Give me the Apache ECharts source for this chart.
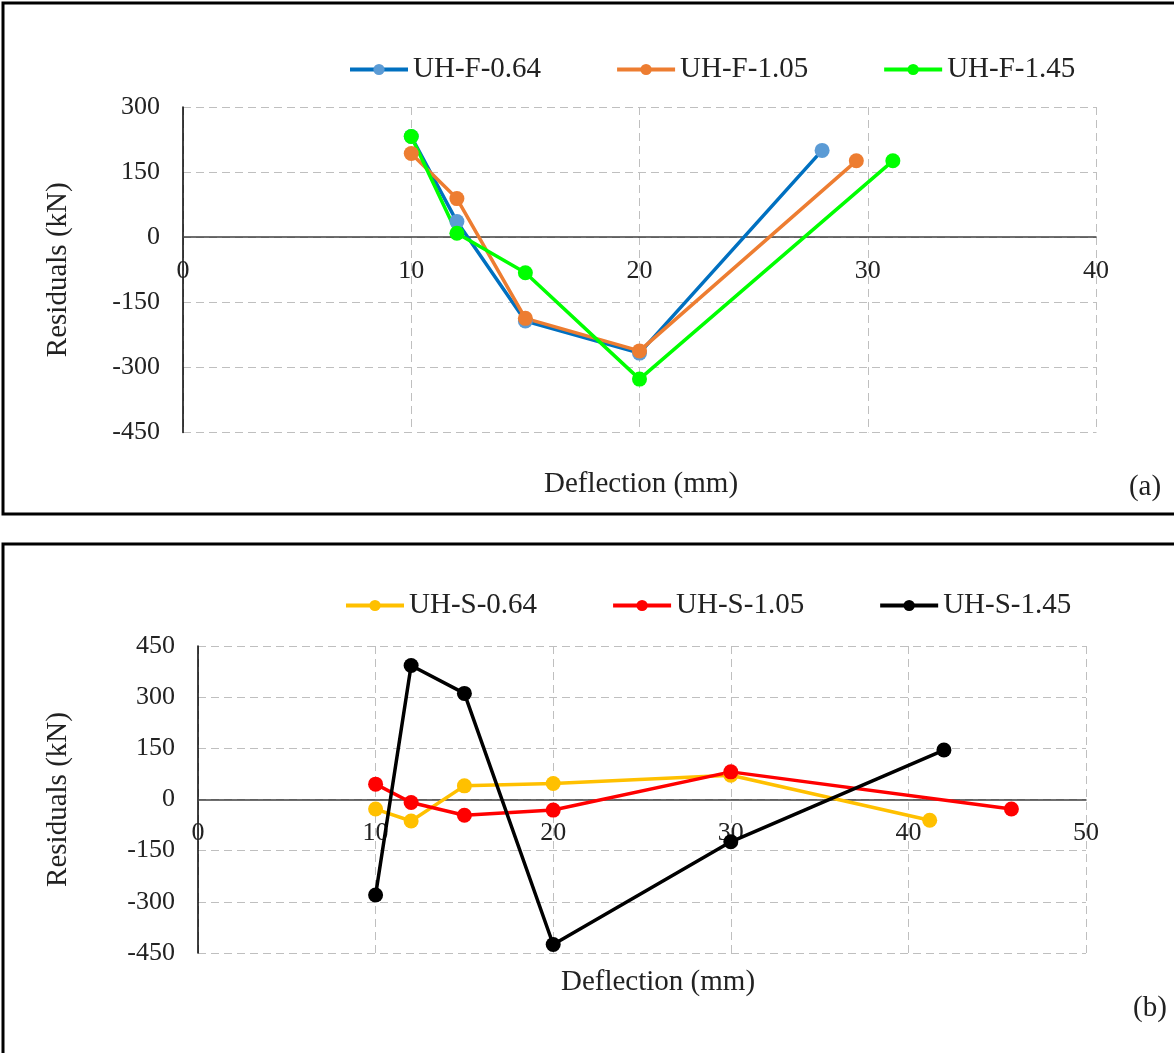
<!DOCTYPE html>
<html>
<head>
<meta charset="utf-8">
<script src="https://cdn.jsdelivr.net/npm/echarts@6/dist/echarts.min.js"></script>
<style>
html,body{margin:0;padding:0;background:#fff;}
#chart{width:1174px;height:1053px;}
</style>
</head>
<body>
<div id="chart"></div>
<script>
// ---- data (deflection mm, residual kN) ----
const namesTop = ['UH-F-0.64', 'UH-F-1.05', 'UH-F-1.45'];
const namesBottom = ['UH-S-0.64', 'UH-S-1.05', 'UH-S-1.45'];
const UH_F_064 = [[10, 232], [12, 36], [15, -193], [20, -267], [28, 200]];
const UH_F_105 = [[10, 193], [12, 89], [15, -187], [20, -262], [29.5, 176]];
const UH_F_145 = [[10, 232], [12, 9], [15, -82], [20, -327], [31.1, 176]];
const UH_S_064 = [[10, -28], [12, -63], [15, 40], [20, 47], [30, 71], [41.2, -61]];
const UH_S_105 = [[10, 45], [12, -9], [15, -46], [20, -31], [30, 81], [45.8, -28]];
const UH_S_145 = [[10, -280], [12, 393], [15, 311], [20, -425], [30, -124], [42, 145]];
const xTitle = 'Deflection (mm)';
const yTitle = 'Residuals (kN)';

const FONT = "'Liberation Serif', 'Times New Roman', serif";
const chart = echarts.init(document.getElementById('chart'), null, {renderer: 'canvas'});

// x axis drawn at residual = 0 (offset upward from the grid bottom)
function xAx(grid, max, offset) {
  return {
    type: 'value', gridIndex: grid, min: 0, max: max, interval: 10,
    offset: offset,
    axisLine: {onZero: false, lineStyle: {color: '#404040', width: 1.5}},
    axisTick: {show: false},
    axisLabel: {fontFamily: FONT, fontSize: 26, color: '#222', margin: 21},
    splitLine: {show: true, lineStyle: {color: '#BFBFBF', width: 1, type: [8, 5]}}
  };
}
function yAx(grid, min, max, gap) {
  return {
    type: 'value', gridIndex: grid, min: min, max: max, interval: 150,
    name: yTitle, nameLocation: 'middle', nameRotate: 90, nameGap: gap,
    nameTextStyle: {fontFamily: FONT, fontSize: 29, color: '#222'},
    axisLine: {show: true, onZero: false, lineStyle: {color: '#000', width: 1.5}},
    axisTick: {show: false},
    axisLabel: {fontFamily: FONT, fontSize: 26, color: '#222', margin: 23, padding: [4, 0, 0, 0]},
    splitLine: {show: true, lineStyle: {color: '#BFBFBF', width: 1, type: [8, 5]}}
  };
}
function ser(name, data, grid, lineColor, markColor) {
  return {
    name: name, type: 'line', xAxisIndex: grid, yAxisIndex: grid, data: data,
    symbol: 'circle', symbolSize: 15,
    lineStyle: {color: lineColor, width: 3.5},
    itemStyle: {color: markColor},
    animation: false
  };
}
const legendBase = {
  itemWidth: 58, itemHeight: 14, itemGap: 74, padding: 0,
  lineStyle: {width: 4},
  textStyle: {fontFamily: FONT, fontSize: 29, color: '#222'}
};

chart.setOption({
  animation: false,
  textStyle: {fontFamily: FONT},
  grid: [
    {left: 183, top: 107, width: 913, height: 325.5},
    {left: 198, top: 646, width: 888, height: 307}
  ],
  xAxis: [xAx(0, 40, -195.3), xAx(1, 50, -153.5)],
  yAxis: [yAx(0, -450, 300, 110), yAx(1, -450, 450, 125)],
  legend: [
    Object.assign({}, legendBase, {data: namesTop, left: 348, top: 55}),
    Object.assign({}, legendBase, {data: namesBottom, left: 344, top: 591})
  ],
  series: [
    ser(namesTop[0], UH_F_064, 0, '#0070C0', '#5B9BD5'),
    ser(namesTop[1], UH_F_105, 0, '#ED7D31', '#ED7D31'),
    ser(namesTop[2], UH_F_145, 0, '#00FF00', '#00FF00'),
    ser(namesBottom[0], UH_S_064, 1, '#FFC000', '#FFC000'),
    ser(namesBottom[1], UH_S_105, 1, '#FF0000', '#FF0000'),
    ser(namesBottom[2], UH_S_145, 1, '#000000', '#000000')
  ],
  graphic: [
    {type: 'rect', shape: {x: 3, y: 3, width: 1190, height: 511}, style: {fill: 'none', stroke: '#000', lineWidth: 3}, silent: true},
    {type: 'rect', shape: {x: 3, y: 544, width: 1190, height: 530}, style: {fill: 'none', stroke: '#000', lineWidth: 3}, silent: true},
    {type: 'text', x: 641, y: 484, style: {text: xTitle, font: "29px 'Liberation Serif'", fill: '#222', textAlign: 'center', textVerticalAlign: 'middle'}},
    {type: 'text', x: 658, y: 982, style: {text: xTitle, font: "29px 'Liberation Serif'", fill: '#222', textAlign: 'center', textVerticalAlign: 'middle'}},
    {type: 'text', x: 1145, y: 487, style: {text: '(a)', font: "29px 'Liberation Serif'", fill: '#222', textAlign: 'center', textVerticalAlign: 'middle'}},
    {type: 'text', x: 1150, y: 1008, style: {text: '(b)', font: "29px 'Liberation Serif'", fill: '#222', textAlign: 'center', textVerticalAlign: 'middle'}}
  ]
});
</script>
</body>
</html>
